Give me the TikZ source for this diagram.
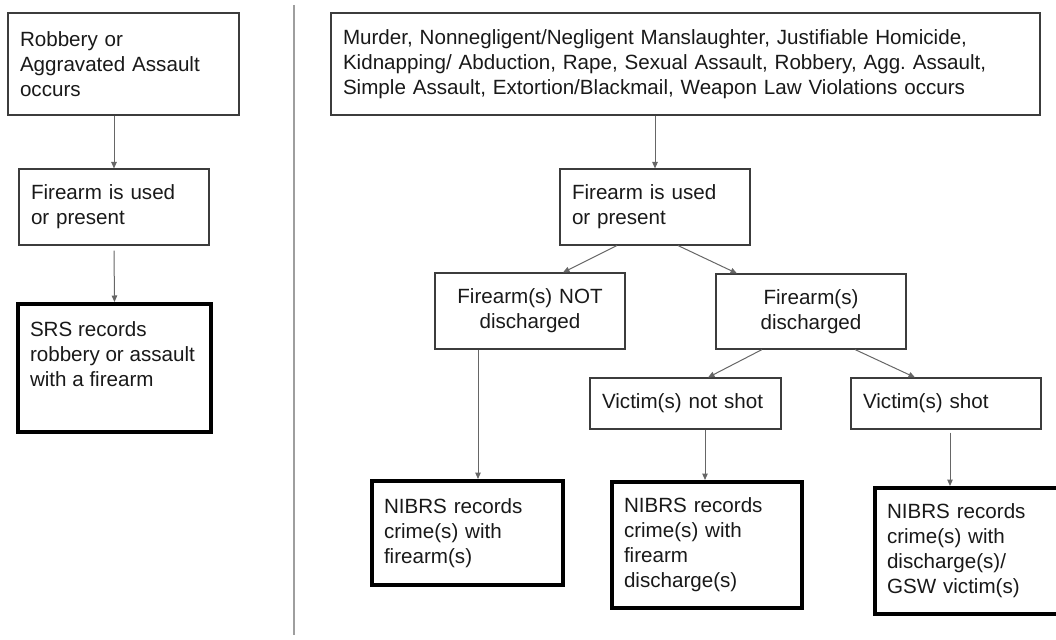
\documentclass[tikz,border=0pt]{standalone}
\usepackage{fontspec}
\setmainfont{Liberation Sans}
\usetikzlibrary{arrows.meta}
\definecolor{boxline}{HTML}{3C3C3C}
\definecolor{arrowgray}{HTML}{666666}
\definecolor{rulegray}{HTML}{9E9E9E}
\frenchspacing
\begin{document}
\begin{tikzpicture}[x=1pt,y=-1pt,
  every node/.style={font=\fontsize{20.6}{25}\selectfont, text=black!90, inner xsep=12pt, inner ysep=0pt},
  box/.style={draw=boxline, line width=1.1pt, align=left},
  result/.style={draw=black, line width=4pt, align=left},
  arrow/.style={draw=arrowgray, line width=1pt, -{Triangle[length=6.5pt,width=5.5pt]}}]
  \useasboundingbox (0,0) rectangle (1056,639);
  \node[box, text width=207pt, minimum height=102pt] (rob) at (123.5,64) {Robbery or\\Aggravated Assault\\occurs};
  \node[box, text width=166pt, minimum height=76pt] (used1) at (114,207) {Firearm is used\\or present};
  \node[result, inner ysep=18pt] (srs) at (114.5,368) {\parbox[c][92pt][t]{169pt}{SRS records\\robbery or assault\\with a firearm}};
  \draw[rulegray, line width=1.5pt] (294,5) -- (294,635);
  \node[box, text width=685pt, minimum height=102pt] (crimes) at (685.5,64)
    {Murder, Nonnegligent/Negligent Manslaughter, Justifiable Homicide,\\
     Kidnapping/ Abduction, Rape, Sexual Assault, Robbery, Agg.\ Assault,\\
     Simple Assault, Extortion/Blackmail, Weapon Law Violations occurs};
  \node[box, text width=166pt, minimum height=76pt] (used2) at (655,207) {Firearm is used\\or present};
  \node[box, align=center, text width=166pt, minimum height=76pt] (notdis) at (530,311) {Firearm(s) NOT\\discharged};
  \node[box, align=center, text width=166pt, minimum height=75pt] (dis) at (811,311.5) {Firearm(s)\\discharged};
  \node[box, text width=167pt, minimum height=51pt] (notshot) at (685.5,403.5) {Victim(s) not shot};
  \node[box, text width=166pt, minimum height=51pt] (shot) at (946,403.5) {Victim(s) shot};
  \node[result, text width=167pt, minimum height=104pt] (nib1) at (467.5,533) {NIBRS records\\crime(s) with\\firearm(s)};
  \node[result, text width=166pt, minimum height=126pt] (nib2) at (707,545) {NIBRS records\\crime(s) with\\firearm\\discharge(s)};
  \node[result, text width=161pt, minimum height=126pt] (nib3) at (967.5,551) {NIBRS records\\crime(s) with\\discharge(s)/\\GSW victim(s)};
  \draw[arrow] (rob.south -| used1.north) -- (used1.north);
  \draw[arrow] ([yshift=-5pt]used1.south) -- (srs.north);
  \draw[arrow] (crimes.south -| used2.north) -- (used2.north);
  \draw[arrow] ([xshift=-38pt]used2.south) -- ([xshift=33pt]notdis.north);
  \draw[arrow] ([xshift=23pt]used2.south) -- ([xshift=-74pt]dis.north);
  \draw[arrow] ([xshift=-52pt]notdis.south) -- ([xshift=-52pt]notdis.south |- nib1.north);
  \draw[arrow] ([xshift=-49pt]dis.south) -- ([xshift=22.5pt]notshot.north);
  \draw[arrow] ([xshift=44pt]dis.south) -- ([xshift=-31pt]shot.north);
  \draw[arrow] ([xshift=19.5pt]notshot.south) -- ([xshift=19.5pt]notshot.south |- nib2.north);
  \draw[arrow] ([xshift=4pt,yshift=-3pt]shot.south) -- ([xshift=4pt]shot.south |- nib3.north);
\end{tikzpicture}
\end{document}
